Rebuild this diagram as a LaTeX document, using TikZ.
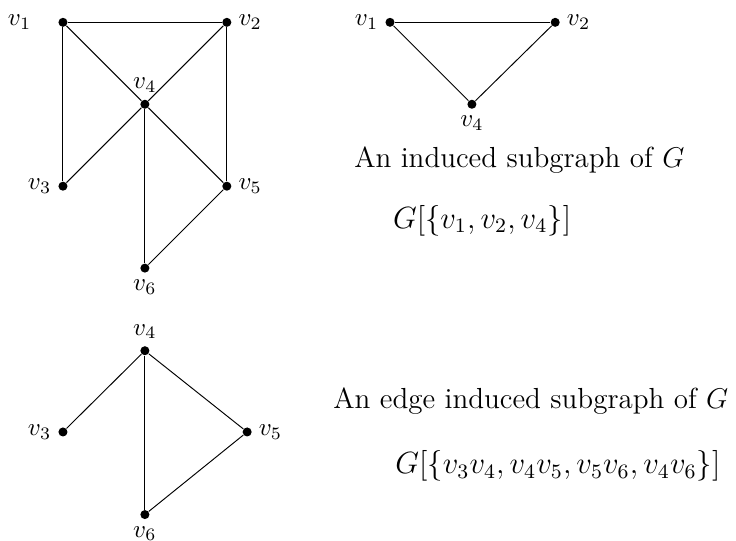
\documentclass[tikz,border=0pt]{standalone}
\usepackage{amsmath,amssymb}
\usepackage{tikz}
\usetikzlibrary{positioning}
\begin{document}
\begin{tikzpicture}[vertex/.style={circle,fill,inner sep=0pt,minimum size=3.8pt},
edge/.style={thin},
every label/.style={scale=1.05,inner sep=2.5pt},
caption/.style={font=\fontsize{12.2}{15}\selectfont,inner sep=1pt},
formula/.style={font=\large,scale=1.075,inner sep=1pt}]
\useasboundingbox (0,0) rectangle (10.87,7.98);
% the graph G
\node[vertex,label={[label distance=8pt]left:$v_1$}] (a1) at (0.93,7.65) {};
\node[vertex,label=right:$v_2$] (a2) at (3.35,7.65) {};
\node[vertex,label=left:$v_3$] (a3) at (0.93,5.23) {};
\node[vertex,label=above:$v_4$] (a4) at (2.14,6.44) {};
\node[vertex,label=right:$v_5$] (a5) at (3.35,5.23) {};
\node[vertex,label=below:$v_6$] (a6) at (2.14,4.02) {};
\draw[edge] (a1)--(a2);\draw[edge] (a1)--(a3);\draw[edge] (a1)--(a4);
\draw[edge] (a2)--(a4);\draw[edge] (a2)--(a5);\draw[edge] (a3)--(a4);
\draw[edge] (a4)--(a5);\draw[edge] (a4)--(a6);\draw[edge] (a5)--(a6);
% induced subgraph
\node[vertex,label=left:$v_1$] (b1) at (5.76,7.65) {};
\node[vertex,label=right:$v_2$] (b2) at (8.20,7.65) {};
\node[vertex,label=below:$v_4$] (b4) at (6.97,6.44) {};
\draw[edge] (b1)--(b2);\draw[edge] (b1)--(b4);\draw[edge] (b2)--(b4);
\node[caption] (t1) at (7.67,5.62) {An induced subgraph of $G$};
\node[formula] (f1) at (7.12,4.72) {$G[\{v_1,v_2,v_4\}]$};
% edge induced subgraph
\node[vertex,label=above:$v_4$] (c4) at (2.14,2.80) {};
\node[vertex,label=left:$v_3$] (c3) at (0.93,1.60) {};
\node[vertex,label=right:$v_5$] (c5) at (3.65,1.60) {};
\node[vertex,label=below:$v_6$] (c6) at (2.14,0.38) {};
\draw[edge] (c3)--(c4);\draw[edge] (c4)--(c5);\draw[edge] (c5)--(c6);\draw[edge] (c4)--(c6);
\node[caption] (t2) at (7.84,2.05) {An edge induced subgraph of $G$};
\node[formula] (f2) at (8.24,1.10) {$G[\{v_3v_4,v_4v_5,v_5v_6,v_4v_6\}]$};
\end{tikzpicture}
\end{document}
